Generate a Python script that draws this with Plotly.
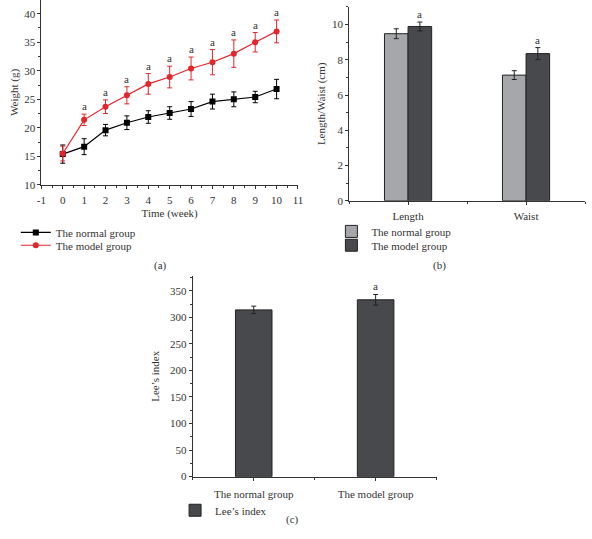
import plotly.graph_objects as go

# ---- data ----
weeks = [0, 1, 2, 3, 4, 5, 6, 7, 8, 9, 10]
week_ticks = [-1, 0, 1, 2, 3, 4, 5, 6, 7, 8, 9, 10, 11]
normal_weight = [15.4, 16.7, 19.6, 20.9, 21.9, 22.6, 23.3, 24.6, 25.0, 25.4, 26.8]
normal_weight_err = [1.6, 1.4, 1.0, 1.2, 1.1, 1.1, 1.3, 1.3, 1.3, 1.0, 1.7]
model_weight = [15.5, 21.4, 23.7, 25.7, 27.7, 28.9, 30.4, 31.5, 33.0, 35.0, 36.9]
model_weight_err = [1.3, 1.0, 1.2, 1.5, 1.8, 1.9, 2.0, 2.2, 2.4, 1.7, 2.0]

measures = ["Length", "Waist"]
normal_measure = [9.48, 7.13]
normal_measure_err = [0.28, 0.25]
model_measure = [9.89, 8.35]
model_measure_err = [0.25, 0.34]

lee_groups = ["The normal group", "The model group"]
lee_values = [314, 333]
lee_err = [7, 10]

FONT = "Liberation Serif"
TXT = "#333333"
RED = "#e3262b"
LIGHT = "#a5a7aa"
DARK = "#48494d"
W, H = 592, 539

def px(x):
    return x / W

def py(y):
    return 1 - y / H

fig = go.Figure()

# (a) weight lines
fig.add_trace(go.Scatter(
    x=weeks, y=normal_weight, mode="lines+markers", name="The normal group",
    line=dict(color="black", width=1.2), marker=dict(symbol="square", size=6, color="black"),
    error_y=dict(type="data", array=normal_weight_err, color="black", thickness=1, width=2.5),
    xaxis="x", yaxis="y", legend="legend", showlegend=True))
fig.add_trace(go.Scatter(
    x=weeks, y=model_weight, mode="lines+markers", name="The model group",
    line=dict(color=RED, width=1.2), marker=dict(symbol="circle", size=6, color=RED),
    error_y=dict(type="data", array=model_weight_err, color=RED, thickness=1, width=2.5),
    xaxis="x", yaxis="y", legend="legend4"))

# (b) length / waist bars
mx = list(range(len(measures)))
fig.add_trace(go.Bar(
    x=mx, y=normal_measure, name="The normal group", width=0.2, offset=-0.2,
    marker=dict(color=LIGHT, line=dict(color="#222222", width=1)),
    error_y=dict(type="data", array=normal_measure_err, color="#222222", thickness=1, width=2.5),
    xaxis="x2", yaxis="y2", legend="legend2"))
fig.add_trace(go.Bar(
    x=mx, y=model_measure, name="The model group", width=0.2, offset=0,
    marker=dict(color=DARK, line=dict(color="#222222", width=1)),
    error_y=dict(type="data", array=model_measure_err, color="#222222", thickness=1, width=2.5),
    xaxis="x2", yaxis="y2", legend="legend5"))

# (c) Lee's index
lx = list(range(len(lee_groups)))
fig.add_trace(go.Bar(
    x=lx, y=lee_values, name="Lee’s index", width=0.3,
    marker=dict(color=DARK, line=dict(color="#222222", width=1)),
    error_y=dict(type="data", array=lee_err, color="#222222", thickness=1, width=2.5),
    xaxis="x3", yaxis="y3", legend="legend3"))

afont = dict(family=FONT, size=11, color=TXT)
annos = []
for i, w in enumerate(weeks):
    if i == 0:
        continue
    annos.append(dict(x=w, y=model_weight[i] + model_weight_err[i], xref="x", yref="y",
                      text="a", showarrow=False, yanchor="bottom", font=afont))
for i in mx:
    annos.append(dict(x=i + 0.1, y=model_measure[i] + model_measure_err[i], xref="x2", yref="y2",
                      text="a", showarrow=False, yanchor="bottom", font=afont))
annos.append(dict(x=1, y=lee_values[1] + lee_err[1], xref="x3", yref="y3",
                  text="a", showarrow=False, yanchor="bottom", font=afont))
for lab, xx, yy in [("(a)", 150, 268), ("(b)", 451, 268), ("(c)", 292, 534)]:
    annos.append(dict(x=px(xx), y=py(yy), xref="paper", yref="paper", text=lab,
                      showarrow=False, font=afont))

axis_common = dict(showline=True, linecolor="#333333", linewidth=1, ticks="outside",
                   ticklen=3, tickcolor="#333333", showgrid=False, zeroline=False,
                   tickfont=dict(family=FONT, size=11, color=TXT),
                   title_font=dict(family=FONT, size=11, color=TXT))
minor = dict(ticks="outside", ticklen=2, tickcolor="#333333", showgrid=False)

leg_font = dict(family=FONT, size=11, color=TXT)

def leg(x, y):
    return dict(x=px(x), y=py(y), xanchor="left", yanchor="middle", font=leg_font,
                bgcolor="rgba(0,0,0,0)", itemwidth=30, visible=True)

fig.update_layout(
    width=W, height=H, margin=dict(l=0, r=0, t=0, b=0),
    plot_bgcolor="white", paper_bgcolor="white",
    barmode="overlay", showlegend=True,
    font=dict(family=FONT, color=TXT),
    xaxis=dict(domain=[px(37), px(298)], range=[-1, 11], tickvals=week_ticks,
               ticktext=[str(v) for v in week_ticks], anchor="y", ticklabelstandoff=2,
               title=dict(text="Time (week)", standoff=4), minor=dict(dtick=0.5, **minor),
               **axis_common),
    yaxis=dict(domain=[py(187), 1], range=[10, 42.4], dtick=5, anchor="x",
               title=dict(text="Weight (g)", standoff=3), minor=dict(dtick=2.5, **minor),
               **axis_common),
    xaxis2=dict(domain=[px(350), px(590)], range=[-0.5, 1.5], tickvals=mx, ticktext=measures,
                anchor="y2", ticklabelstandoff=2,
                minor=dict(tickvals=[-0.5, 0.5, 1.5], **minor), **axis_common),
    yaxis2=dict(domain=[py(203), py(7)], range=[0, 11], dtick=2, anchor="x2",
                title=dict(text="Length/Waist (cm)", standoff=4), minor=dict(dtick=1, **minor),
                **axis_common),
    xaxis3=dict(domain=[px(191), px(439)], range=[-0.5, 1.5], tickvals=lx, ticktext=lee_groups,
                anchor="y3", ticklabelstandoff=4,
                minor=dict(tickvals=[-0.5, 0.5, 1.5], **minor), **axis_common),
    yaxis3=dict(domain=[py(482), py(279)], range=[0, 378], dtick=50, anchor="x3",
                title=dict(text="Lee’s index", standoff=8), minor=dict(dtick=25, **minor),
                **axis_common),
    legend=leg(11, 235),
    legend4=leg(11, 248),
    legend2=leg(332, 234),
    legend5=leg(332, 248),
    legend3=leg(173, 516),
    annotations=annos,
)

fig.write_html("out.html", config={"displayModeBar": False},
               post_script="document.body.style.margin='0';document.body.style.overflow='hidden';")
